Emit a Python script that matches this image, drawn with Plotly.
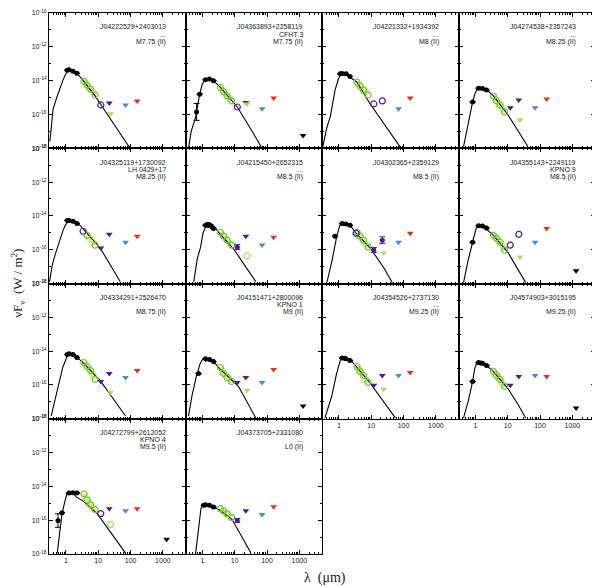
import numpy as np
import plotly.graph_objects as go
from plotly.subplots import make_subplots

# ---- panel labels (row-major order, 4 per row) ----
names = ["J04222529+2403013", "J04363893+2258119", "J04221332+1934392", "J04274538+2357243",
         "J04325119+1730092", "J04215450+2652315", "J04302365+2359129", "J04355143+2249119",
         "J04334291+2526470", "J04151471+2800096", "J04354526+2737130", "J04574903+3015195",
         "J04272799+2612052", "J04373705+2331080"]
aliases = ["...", "CFHT 3", "...", "...", "LH 0429+17", "...", "...", "KPNO 9",
           "", "KPNO 1", "...", "", "KPNO 4", "..."]
sptypes = ["M7.75 (II)", "M7.75 (II)", "M8 (II)", "M8.25 (II)", "M8.25 (II)", "M8.5 (II)",
           "M8.5 (II)", "M8.5 (II)", "M8.75 (II)", "M9 (II)", "M9.25 (II)", "M9.25 (II)",
           "M9.5 (II)", "L0 (II)"]

# ---- photospheric model (wavelength in micron, log10 nuFnu in W/m^2) ----
model_wl = [
    [0.32, 0.40, 0.50, 0.66, 0.80, 0.94, 1.10, 1.25, 1.60, 2.20, 3.40, 5.0, 8.0, 20, 50, 100],
    [0.37, 0.45, 0.62, 0.82, 1.00, 1.25, 1.60, 2.20, 3.60, 12, 30, 65, 75],
    [0.32, 0.42, 0.54, 0.76, 0.95, 1.09, 1.25, 1.50, 2.20, 3.60, 9.3, 30, 80],
    [0.43, 0.60, 0.82, 1.00, 1.20, 1.45, 1.70, 2.00, 2.40, 3.60, 10, 25, 42],
    [0.31, 0.38, 0.46, 0.66, 0.80, 0.95, 1.17, 1.40, 1.80, 2.40, 4.6, 11.5, 25, 48],
    [0.54, 0.70, 0.88, 1.05, 1.17, 1.30, 1.50, 1.75, 2.00, 2.30, 3.6, 9.3, 25, 45],
    [0.43, 0.62, 0.87, 1.05, 1.17, 1.35, 1.60, 1.90, 2.30, 3.20, 9.3, 25, 45],
    [0.43, 0.60, 0.82, 1.05, 1.20, 1.40, 1.65, 1.95, 2.30, 3.60, 10, 20, 36],
    [0.35, 0.46, 0.60, 0.80, 1.00, 1.17, 1.30, 1.50, 1.70, 2.00, 2.30, 3.4, 12, 40, 70],
    [0.37, 0.48, 0.66, 0.85, 1.00, 1.10, 1.25, 1.40, 1.60, 1.80, 2.10, 2.4, 3.4, 13, 45],
    [0.37, 0.60, 0.85, 1.05, 1.17, 1.30, 1.50, 1.70, 2.00, 2.50, 3.2, 9.3, 25, 56],
    [0.43, 0.60, 0.82, 0.95, 1.10, 1.25, 1.40, 1.60, 1.90, 2.20, 3.4, 10, 20, 36],
    [0.54, 0.66, 0.76, 0.90, 1.05, 1.17, 1.40, 1.70, 2.10, 3.60, 9.3, 30, 70],
    [0.62, 0.80, 0.90, 1.00, 1.10, 1.25, 1.40, 1.60, 1.90, 2.20, 3.4, 8.3, 16, 32],
]
model_logf = [
    [-17.6, -15.7, -15.1, -14.4, -14.0, -13.7, -13.45, -13.35, -13.45, -13.57, -13.98, -14.4, -14.9, -16.05, -17.2, -18.05],
    [-18.0, -17.0, -16.14, -14.8, -14.2, -13.9, -13.86, -14.0, -14.4, -15.56, -16.8, -17.9, -18.1],
    [-17.9, -16.8, -16.14, -14.56, -13.95, -13.68, -13.57, -13.6, -13.8, -14.09, -15.38, -16.75, -17.95],
    [-17.9, -16.55, -15.26, -14.7, -14.45, -14.39, -14.5, -14.45, -14.6, -14.9, -16.0, -17.24, -17.9],
    [-17.9, -16.9, -16.32, -15.32, -14.9, -14.56, -14.33, -14.3, -14.4, -14.45, -15.03, -15.9, -16.98, -17.9],
    [-17.9, -16.5, -15.85, -15.0, -14.8, -14.6, -14.7, -14.58, -14.7, -14.65, -15.09, -15.96, -17.18, -17.9],
    [-17.9, -16.6, -15.15, -14.6, -14.45, -14.55, -14.48, -14.55, -14.6, -14.97, -15.9, -17.1, -17.95],
    [-17.95, -16.6, -15.56, -14.74, -14.56, -14.65, -14.58, -14.7, -14.85, -15.15, -16.14, -17.12, -17.95],
    [-17.84, -16.9, -15.9, -14.95, -14.5, -14.15, -14.25, -14.15, -14.3, -14.25, -14.4, -14.68, -15.79, -17.2, -17.84],
    [-17.84, -16.6, -15.44, -14.74, -14.5, -14.44, -14.6, -14.48, -14.55, -14.5, -14.62, -14.7, -15.03, -16.08, -17.96],
    [-17.95, -16.67, -15.32, -14.6, -14.39, -14.5, -14.42, -14.5, -14.48, -14.6, -14.85, -15.9, -17.03, -17.95],
    [-17.95, -16.96, -15.79, -15.03, -14.7, -14.8, -14.68, -14.78, -14.72, -14.85, -15.15, -16.2, -17.1, -17.95],
    [-17.95, -16.5, -15.6, -15.0, -14.5, -14.39, -14.42, -14.45, -14.62, -14.9, -15.61, -17.0, -17.95],
    [-17.95, -16.08, -15.32, -15.15, -15.09, -15.2, -15.12, -15.2, -15.15, -15.22, -15.4, -15.96, -16.93, -17.95],
]

# ---- optical / near-IR photometry (black filled points) ----
nir_wl = [
    [1.10, 1.25, 1.65, 2.20],
    [0.66, 0.82, 1.25, 1.65, 2.20],
    [1.10, 1.25, 1.65, 2.20],
    [0.82, 1.25, 1.65, 2.20],
    [1.10, 1.25, 1.65, 2.20],
    [1.25, 1.45, 1.65, 1.90, 2.20],
    [0.76, 1.25, 1.65, 2.20],
    [0.82, 1.25, 1.65, 2.20],
    [1.10, 1.25, 1.65, 2.20],
    [0.76, 1.25, 1.65, 2.20],
    [1.25, 1.50, 1.65, 2.20],
    [0.82, 1.25, 1.45, 1.65, 2.20],
    [0.57, 0.76, 1.25, 1.65, 2.20],
    [1.10, 1.25, 1.65, 2.20],
]
nir_logf = [
    [-13.38, -13.36, -13.45, -13.57],
    [-15.85, -14.8, -13.95, -13.9, -14.0],
    [-13.6, -13.58, -13.6, -13.75],
    [-15.26, -14.45, -14.47, -14.55],
    [-14.27, -14.28, -14.32, -14.45],
    [-14.55, -14.5, -14.52, -14.6, -14.74],
    [-15.2, -14.45, -14.48, -14.56],
    [-15.56, -14.58, -14.6, -14.72],
    [-14.2, -14.15, -14.2, -14.38],
    [-15.32, -14.45, -14.5, -14.62],
    [-14.4, -14.42, -14.45, -14.55],
    [-15.79, -14.68, -14.7, -14.72, -14.85],
    [-16.02, -15.56, -14.39, -14.37, -14.39],
    [-15.12, -15.09, -15.12, -15.22],
]
# error bar half-lengths in dex (0 = none drawn)
nir_err = [
    [0, 0, 0, 0], [0.5, 0, 0, 0, 0], [0, 0, 0, 0], [0, 0, 0, 0], [0, 0, 0, 0],
    [0, 0, 0, 0, 0], [0, 0, 0, 0], [0, 0, 0, 0], [0, 0, 0, 0], [0, 0, 0, 0],
    [0, 0, 0, 0], [0, 0, 0, 0, 0], [0.4, 0, 0, 0, 0], [0, 0, 0, 0],
]

# ---- IRAC (green open circles), None = not shown ----
irac_wl = [3.6, 4.5, 5.8, 8.0]
irac_logf = [
    [-14.04, -14.27, -14.5, -14.85],
    [-14.4, -14.65, -14.9, -15.2],
    [-14.09, -14.33, -14.56, -14.85],
    [-14.91, -15.2, -15.44, -15.85],
    [None, -15.15, None, -15.73],
    [-14.97, -15.2, -15.44, -15.73],
    [-14.97, -15.2, -15.44, -15.85],
    [-15.15, -15.32, -15.56, -16.02],
    [-14.68, -14.91, -15.15, -15.67],
    [-14.97, -15.32, -15.56, -15.79],
    [-14.91, -15.2, -15.44, -15.85],
    [-15.2, -15.44, -15.67, -16.08],
    [-14.44, -14.8, -15.09, -15.38],
    [-15.32, -15.44, -15.61, -15.85],
]

# ---- WISE-like points (purple) ----
pur_open_wl = [[12], [12], [12, 22], [], [3.4], [], [3.4], [12, 22], [], [], [], [], [12], []]
pur_open_logf = [[-15.44], [-15.56], [-15.38, -15.2], [], [-14.91], [], [-15.03], [-15.73, -15.09],
                 [], [], [], [], [-15.61], []]
pur_fill_wl = [[], [], [], [], [], [12], [12, 22], [], [], [], [], [], [], [12]]
pur_fill_logf = [[], [], [], [], [], [-15.85], [-16.02, -15.44], [], [], [], [], [], [], [-16.02]]
pur_fill_err = [[], [], [], [], [], [0.15], [0.15, 0.2], [], [], [], [], [], [], [0.12]]
pur_lim_wl = [[22], [22], [], [12, 22], [12, 22], [22], [], [], [12, 22], [12, 22], [12, 22],
              [12, 22], [22], [22]]
pur_lim_logf = [[-15.32], [-15.3], [], [-15.61, -15.15], [-15.9, -15.09], [-15.2], [], [],
                [-15.79, -15.32], [-15.85, -15.56], [-16.02, -15.44], [-16.02, -15.5], [-15.32], [-15.44]]

# ---- 24 micron (green): upper limits and detections ----
m24_lim = [-15.96, -15.38, None, -16.32, None, None, -16.2, -16.43, -16.43, -16.32, -16.26, None, None, None]
m24_det = [None, None, None, None, None, -16.37, None, None, None, None, None, None, -16.26, None]

# ---- far-IR / mm upper limits ----
p70_lim = [-15.44, -15.67, -15.67, -15.61, -15.56, -15.73, -15.56, -15.56, -15.56, -15.85, -15.44, -15.44, -15.44, -15.67]
p160_lim = [-15.2, -15.03, -15.03, -15.09, -15.2, -15.26, -15.03, -14.74, -15.15, -15.09, -15.26, -15.5, -15.32, -15.2]
mm_lim = [None, -17.25, None, None, None, None, None, -17.25, None, -17.25, None, -17.37, -17.13, None]

BAND = "rgba(196,238,128,0.85)"
GREEN = "#7cc23a"
GREEN_T = "#a6dd5c"
PURPLE = "#4e1c8c"
BLUE = "#4a88d8"
RED = "#d2381a"


def p(v):
    return [10 ** x for x in v]


fig = make_subplots(rows=4, cols=4, horizontal_spacing=0, vertical_spacing=0)

for i in range(len(names)):
    r, c = i // 4 + 1, i % 4 + 1
    gw = [w for w, f in zip(irac_wl, irac_logf[i]) if f is not None]
    gf = [f for f in irac_logf[i] if f is not None]
    fig.add_trace(go.Scatter(x=gw, y=p(gf), mode="lines", line=dict(color=BAND, width=7)), row=r, col=c)
    fig.add_trace(go.Scatter(x=model_wl[i], y=p(model_logf[i]), mode="lines",
                             line=dict(color="black", width=1.1)), row=r, col=c)
    f = np.array(nir_logf[i])
    e = np.array(nir_err[i])
    fig.add_trace(go.Scatter(
        x=nir_wl[i], y=10 ** f, mode="markers", marker=dict(color="black", size=5),
        error_y=dict(type="data", array=10 ** (f + e) - 10 ** f, arrayminus=10 ** f - 10 ** (f - e),
                     color="black", thickness=1, width=3)), row=r, col=c)
    fig.add_trace(go.Scatter(x=gw, y=p(gf), mode="markers",
                             marker=dict(symbol="circle-open", color=GREEN, size=6, line=dict(width=1.2))),
                  row=r, col=c)
    fig.add_trace(go.Scatter(x=pur_open_wl[i], y=p(pur_open_logf[i]), mode="markers",
                             marker=dict(symbol="circle-open", color=PURPLE, size=6, line=dict(width=1.2))),
                  row=r, col=c)
    if pur_fill_wl[i]:
        f = np.array(pur_fill_logf[i])
        e = np.array(pur_fill_err[i])
        fig.add_trace(go.Scatter(
            x=pur_fill_wl[i], y=10 ** f, mode="markers", marker=dict(color=PURPLE, size=5),
            error_y=dict(type="data", array=10 ** (f + e) - 10 ** f, arrayminus=10 ** f - 10 ** (f - e),
                         color=PURPLE, thickness=1, width=3)), row=r, col=c)
    fig.add_trace(go.Scatter(x=pur_lim_wl[i], y=p(pur_lim_logf[i]), mode="markers",
                             marker=dict(symbol="triangle-down", color=PURPLE, size=6)), row=r, col=c)
    if m24_lim[i] is not None:
        fig.add_trace(go.Scatter(x=[24], y=[10 ** m24_lim[i]], mode="markers",
                                 marker=dict(symbol="triangle-down", color=GREEN_T, size=6)), row=r, col=c)
    if m24_det[i] is not None:
        fig.add_trace(go.Scatter(x=[24], y=[10 ** m24_det[i]], mode="markers",
                                 marker=dict(symbol="circle-open", color=GREEN_T, size=6, line=dict(width=1.2))),
                      row=r, col=c)
    fig.add_trace(go.Scatter(x=[70], y=[10 ** p70_lim[i]], mode="markers",
                             marker=dict(symbol="triangle-down", color=BLUE, size=6)), row=r, col=c)
    fig.add_trace(go.Scatter(x=[160], y=[10 ** p160_lim[i]], mode="markers",
                             marker=dict(symbol="triangle-down", color=RED, size=6)), row=r, col=c)
    if mm_lim[i] is not None:
        fig.add_trace(go.Scatter(x=[1300], y=[10 ** mm_lim[i]], mode="markers",
                                 marker=dict(symbol="triangle-down", color="black", size=6)), row=r, col=c)

    for txt, yy in zip([names[i], aliases[i], sptypes[i]], [0.898, 0.843, 0.788]):
        if txt:
            fig.add_annotation(text=txt, xref="x domain", yref="y domain", x=0.872, y=yy,
                               xanchor="right", yanchor="middle", showarrow=False,
                               font=dict(size=7, color="#222"), row=r, col=c)

x_major = [1, 10, 100, 1000]
x_minor = [k * 10 ** d for d in range(-1, 4) for k in range(2, 10) if 0.3 <= k * 10 ** d <= 5000]
y_major = [10.0 ** e for e in range(-18, -9, 2)]
y_text = ["10<sup>%d</sup>" % e for e in range(-18, -9, 2)]
y_minor = [10.0 ** e for e in range(-17, -10, 2)]

fig.update_xaxes(type="log", range=[np.log10(0.3), np.log10(5000)],
                 tickmode="array", tickvals=x_major, ticktext=["1", "10", "100", "1000"],
                 ticks="inside", ticklen=4, tickwidth=1, tickcolor="black",
                 minor=dict(tickmode="array", tickvals=x_minor, ticks="inside", ticklen=2, tickcolor="black"),
                 showline=True, linecolor="black", linewidth=1, mirror="ticks",
                 showgrid=False, zeroline=False, showticklabels=False,
                 tickfont=dict(size=7, color="#222"))
fig.update_yaxes(type="log", range=[-18, -10],
                 tickmode="array", tickvals=y_major, ticktext=y_text,
                 ticks="inside", ticklen=4, tickwidth=1, tickcolor="black",
                 minor=dict(tickmode="array", tickvals=y_minor, ticks="inside", ticklen=2, tickcolor="black"),
                 showline=True, linecolor="black", linewidth=1, mirror="ticks",
                 showgrid=False, zeroline=False, showticklabels=False,
                 tickfont=dict(size=7, color="#222"))

for r, c in [(4, 1), (4, 2), (3, 3), (3, 4)]:
    fig.update_xaxes(showticklabels=True, row=r, col=c)
for r in range(1, 5):
    fig.update_yaxes(showticklabels=True, row=r, col=1)
for c in (3, 4):
    fig.update_xaxes(visible=False, row=4, col=c)
    fig.update_yaxes(visible=False, row=4, col=c)

# axis titles
fig.add_annotation(text="νF<sub>ν</sub>  (W / m<sup>2</sup>)", xref="paper", yref="paper",
                   x=-0.058, y=0.5, xanchor="center", yanchor="middle", textangle=-90,
                   showarrow=False, font=dict(size=13, color="#222", family="Liberation Serif, serif"))
fig.add_annotation(text="λ  (μm)", xref="paper", yref="paper", x=0.505, y=-0.044,
                   xanchor="center", yanchor="middle", showarrow=False,
                   font=dict(size=14, color="#222", family="Liberation Serif, serif"))

# page body has an 8px margin, so the figure is shrunk by that much
fig.update_layout(width=592, height=579, margin=dict(l=41, r=5, t=1, b=33),
                  showlegend=False, plot_bgcolor="white", paper_bgcolor="white",
                  font=dict(family="Liberation Sans, Arial, sans-serif"))

fig.write_html("out.html")
